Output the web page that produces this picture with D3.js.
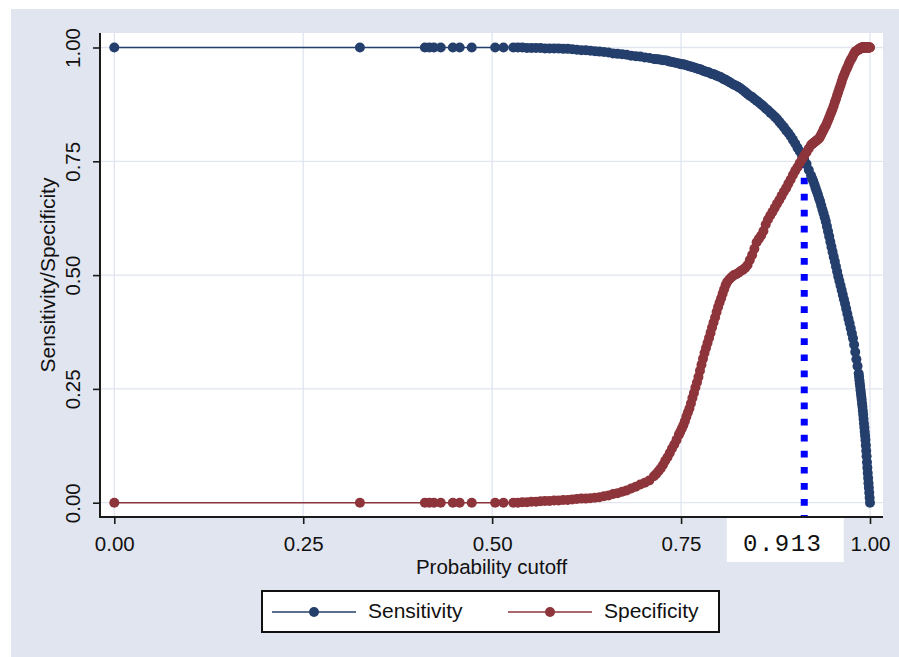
<!DOCTYPE html>
<html><head><meta charset="utf-8">
<script src="https://cdn.jsdelivr.net/npm/d3@7"></script>
<style>body{margin:0;background:#fff}svg{display:block}</style>
</head><body><svg id="c" width="899" height="657"></svg>
<script>
// ---- data ----
const cutoffs = [
  0, 0.325, 0.411, 0.417, 0.423, 0.432, 0.448, 0.457, 0.473, 0.504, 0.515,
  0.528, 0.534, 0.540, 0.546, 0.552, 0.558, 0.564, 0.570, 0.576, 0.582, 0.588, 0.594, 0.600, 0.606, 0.612, 0.618,
  0.624, 0.630, 0.636, 0.642, 0.648, 0.654, 0.660, 0.666, 0.672, 0.678, 0.684, 0.690, 0.696, 0.702, 0.708, 0.714,
  0.717, 0.720, 0.723, 0.726, 0.729, 0.732, 0.735, 0.738, 0.741, 0.744, 0.747,
  0.749, 0.751, 0.753, 0.755, 0.757, 0.759, 0.761, 0.763, 0.765, 0.767, 0.769, 0.771, 0.773, 0.775, 0.777, 0.779,
  0.781, 0.783, 0.785, 0.787, 0.789, 0.791, 0.793, 0.795, 0.797, 0.799, 0.801, 0.803, 0.805, 0.807, 0.809, 0.811,
  0.814, 0.817, 0.820, 0.823, 0.826, 0.829, 0.832, 0.835, 0.838, 0.841, 0.844, 0.847, 0.850, 0.853, 0.856, 0.859,
  0.862, 0.865, 0.868, 0.871, 0.874, 0.877, 0.880, 0.883, 0.886, 0.889, 0.892, 0.895, 0.898, 0.901, 0.904, 0.907,
  0.910, 0.913, 0.916, 0.919, 0.922,
  0.9235, 0.925, 0.9265, 0.928, 0.9295, 0.931, 0.9325, 0.934, 0.9355, 0.937, 0.9385, 0.940, 0.9415, 0.943, 0.9445,
  0.946, 0.9475, 0.949, 0.9505, 0.952, 0.9535, 0.955, 0.9565, 0.958, 0.9595, 0.961, 0.9625, 0.964, 0.9655, 0.967,
  0.9685, 0.970, 0.9715, 0.973, 0.9745, 0.976, 0.9775, 0.979, 0.9805, 0.982, 0.9835,
  0.9850, 0.9855, 0.9860, 0.9865, 0.9870, 0.9875, 0.9880, 0.9885, 0.9890, 0.9895, 0.9900, 0.9905, 0.9910, 0.9915,
  0.9920, 0.9925, 0.9930, 0.9935, 0.9940, 0.9945, 0.9950, 0.9955, 0.9960, 0.9965, 0.9970, 0.9975, 0.9980, 0.9985,
  0.9990, 0.9995, 1.0000
];
const sensitivity = [
  1, 1, 1, 1, 1, 1, 1, 1, 1, 1, 1,
  1.000, 1.000, 1.000, 0.999, 0.999, 0.999, 0.999, 0.998, 0.998, 0.998, 0.998, 0.997, 0.997, 0.996, 0.995, 0.994,
  0.994, 0.993, 0.992, 0.991, 0.990, 0.989, 0.987, 0.986, 0.985, 0.984, 0.982, 0.981, 0.980, 0.978, 0.977, 0.975,
  0.974, 0.974, 0.973, 0.972, 0.972, 0.971, 0.969, 0.968, 0.967, 0.966, 0.965,
  0.964, 0.963, 0.963, 0.962, 0.961, 0.960, 0.959, 0.958, 0.957, 0.956, 0.955, 0.954, 0.953, 0.952, 0.951, 0.949,
  0.948, 0.947, 0.946, 0.945, 0.943, 0.942, 0.941, 0.940, 0.938, 0.937, 0.936, 0.934, 0.932, 0.930, 0.929, 0.927,
  0.924, 0.921, 0.918, 0.916, 0.913, 0.910, 0.906, 0.902, 0.898, 0.894, 0.891, 0.887, 0.883, 0.879, 0.875, 0.871,
  0.866, 0.862, 0.857, 0.853, 0.848, 0.843, 0.837, 0.831, 0.825, 0.818, 0.812, 0.805, 0.797, 0.789, 0.780, 0.772,
  0.763, 0.753, 0.744, 0.731, 0.719,
  0.712, 0.706, 0.699, 0.691, 0.684, 0.677, 0.669, 0.662, 0.653, 0.644, 0.636, 0.627, 0.618, 0.607, 0.596,
  0.585, 0.573, 0.562, 0.551, 0.540, 0.530, 0.519, 0.508, 0.497, 0.487, 0.477, 0.467, 0.457, 0.447, 0.437,
  0.426, 0.415, 0.404, 0.394, 0.383, 0.372, 0.361, 0.347, 0.331, 0.315, 0.300,
  0.284, 0.277, 0.269, 0.262, 0.255, 0.247, 0.240, 0.233, 0.226, 0.218, 0.211, 0.202, 0.193, 0.184,
  0.174, 0.165, 0.156, 0.147, 0.138, 0.126, 0.114, 0.102, 0.089, 0.077, 0.065, 0.054, 0.043, 0.033,
  0.022, 0.011, 0.000
];
const specificity = [
  0, 0, 0, 0, 0, 0, 0, 0, 0, 0, 0,
  0.000, 0.000, 0.001, 0.001, 0.002, 0.002, 0.003, 0.004, 0.004, 0.005, 0.005, 0.006, 0.006, 0.007, 0.008, 0.009,
  0.009, 0.010, 0.011, 0.012, 0.014, 0.016, 0.019, 0.021, 0.024, 0.027, 0.031, 0.035, 0.040, 0.044, 0.049, 0.058,
  0.063, 0.069, 0.075, 0.083, 0.092, 0.100, 0.109, 0.119, 0.128, 0.138, 0.149,
  0.156, 0.163, 0.170, 0.179, 0.189, 0.198, 0.207, 0.218, 0.230, 0.241, 0.253, 0.264, 0.276, 0.290, 0.303, 0.316,
  0.329, 0.340, 0.351, 0.362, 0.373, 0.385, 0.396, 0.407, 0.419, 0.430, 0.440, 0.449, 0.459, 0.469, 0.478, 0.485,
  0.491, 0.496, 0.500, 0.502, 0.505, 0.509, 0.512, 0.516, 0.522, 0.533, 0.544, 0.558, 0.572, 0.580, 0.587, 0.597,
  0.611, 0.622, 0.631, 0.639, 0.648, 0.657, 0.665, 0.674, 0.683, 0.691, 0.701, 0.710, 0.720, 0.729, 0.737, 0.746,
  0.754, 0.762, 0.770, 0.778, 0.786,
  0.788, 0.790, 0.792, 0.794, 0.796, 0.798, 0.800, 0.804, 0.809, 0.814, 0.819, 0.824, 0.828, 0.834, 0.840,
  0.846, 0.853, 0.859, 0.865, 0.872, 0.880, 0.887, 0.895, 0.902, 0.910, 0.917, 0.925, 0.933, 0.939, 0.945,
  0.951, 0.956, 0.962, 0.968, 0.973, 0.977, 0.982, 0.987, 0.991, 0.992, 0.994,
  0.995, 0.996, 0.997, 0.997, 0.998, 0.998, 0.999, 0.999, 1.000, 1.000, 1.000, 1.000, 1.000, 1.000,
  1.000, 1.000, 1.000, 1.000, 1.000, 1.000, 1.000, 1.000, 1.000, 1.000, 1.000, 1.000, 1.000, 1.000,
  1.000, 1.000, 1.000
];
const xTicks = [0, 0.25, 0.5, 0.75, 1];
const yTicks = [0, 0.25, 0.5, 0.75, 1];
const seriesNames = ["Sensitivity", "Specificity"];
const optimalCutoff = 0.913;
const optimalLevel = 0.75;
const xTitle = "Probability cutoff";
const yTitle = "Sensitivity/Specificity";

// ---- drawing ----
const colors = ["#253f6d", "#8e343b"];
const bg = "#e1e5ef", gridC = "#e0e5ef";
const plot = {l: 100, r: 883, t: 33, b: 517};
const FONT = "'Liberation Sans', Arial, Helvetica, sans-serif";

const svg = d3.select("#c");
const x = d3.scaleLinear().domain([0, 1]).range([114.3, 870]);
const y = d3.scaleLinear().domain([0, 1]).range([502.7, 47.5]);

svg.append("rect").attr("x", 11).attr("y", 9).attr("width", 888).attr("height", 648).attr("fill", bg);
svg.append("rect").attr("x", plot.l).attr("y", plot.t).attr("width", plot.r - plot.l).attr("height", plot.b - plot.t).attr("fill", "#fff");

// grid
svg.append("g").selectAll("line").data(xTicks).join("line")
  .attr("x1", d => x(d)).attr("x2", d => x(d)).attr("y1", plot.t).attr("y2", plot.b)
  .attr("stroke", gridC).attr("stroke-width", 1.3);
svg.append("g").selectAll("line").data(yTicks).join("line")
  .attr("y1", d => y(d)).attr("y2", d => y(d)).attr("x1", plot.l).attr("x2", plot.r)
  .attr("stroke", gridC).attr("stroke-width", 1.3);

// optimal cutoff dotted line
svg.append("line")
  .attr("x1", x(optimalCutoff)).attr("x2", x(optimalCutoff))
  .attr("y1", y(0) + 19.1).attr("y2", y(optimalLevel))
  .attr("stroke", "#0000ff").attr("stroke-width", 7).attr("stroke-dasharray", "6.7 9.37");

const rows = cutoffs.map((c, i) => ({c, v: [sensitivity[i], specificity[i]]}));
[0, 1].forEach(k => {
  const g = svg.append("g");
  g.append("path").datum(rows)
    .attr("d", d3.line().x(d => x(d.c)).y(d => y(d.v[k])))
    .attr("fill", "none").attr("stroke", colors[k]).attr("stroke-width", 1.6);
  g.selectAll("circle").data(rows).join("circle")
    .attr("cx", d => x(d.c)).attr("cy", d => y(d.v[k])).attr("r", 5)
    .attr("fill", colors[k]);
});

// axes
const yAxis = d3.axisLeft(y).tickValues(yTicks).tickFormat(d3.format(".2f")).tickSize(7).tickSizeOuter(0);
const gy = svg.append("g").attr("transform", `translate(${plot.l},0)`).call(yAxis);
gy.select(".domain").remove();
gy.selectAll(".tick line").attr("stroke", "#1a1a1a").attr("stroke-width", 1.6);
gy.selectAll(".tick text")
  .attr("x", null).attr("dy", null)
  .attr("transform", "translate(-20,0) rotate(-90)")
  .attr("text-anchor", "middle")
  .style("font-family", FONT).style("font-size", "20.5px").attr("fill", "#111");

const xAxis = d3.axisBottom(x).tickValues(xTicks).tickFormat(d3.format(".2f")).tickSize(7).tickSizeOuter(0);
const gx = svg.append("g").attr("transform", `translate(0,${plot.b})`).call(xAxis);
gx.select(".domain").remove();
gx.selectAll(".tick line").attr("stroke", "#1a1a1a").attr("stroke-width", 1.6);

// optimal cutoff label box
const lx = x(optimalCutoff);
svg.append("rect").attr("x", lx - 77.5).attr("y", plot.b + 1).attr("width", 117).attr("height", 44).attr("fill", "#fff");
svg.append("text").attr("x", lx - 21.5).attr("y", 551).attr("text-anchor", "middle")
  .style("font-family", "'Liberation Mono', 'Courier New', monospace").style("font-size", "24px")
  .style("letter-spacing", "1.5px").attr("fill", "#111")
  .text(d3.format(".3f")(optimalCutoff));

gx.selectAll(".tick text")
  .attr("y", 33.7).attr("dy", null)
  .style("font-family", FONT).style("font-size", "20.5px").attr("fill", "#111");

svg.append("line").attr("x1", plot.l).attr("x2", plot.l).attr("y1", plot.t).attr("y2", plot.b + 1)
  .attr("stroke", "#1a1a1a").attr("stroke-width", 2);
svg.append("line").attr("x1", plot.l - 1).attr("x2", plot.r).attr("y1", plot.b).attr("y2", plot.b)
  .attr("stroke", "#1a1a1a").attr("stroke-width", 2);

// titles
svg.append("text").attr("x", (plot.l + plot.r) / 2).attr("y", 573.5).attr("text-anchor", "middle")
  .style("font-family", FONT).style("font-size", "20.5px").attr("fill", "#111").text(xTitle);
svg.append("text").attr("transform", `translate(55,${(plot.t + plot.b) / 2}) rotate(-90)`).attr("text-anchor", "middle")
  .style("font-family", FONT).style("font-size", "21px").attr("fill", "#111").text(yTitle);

// legend
const leg = svg.append("g");
leg.append("rect").attr("x", 262).attr("y", 591).attr("width", 457).attr("height", 41)
  .attr("fill", "#fff").attr("stroke", "#111").attr("stroke-width", 2);
const legX = [272, 508];
seriesNames.forEach((name, k) => {
  const x0 = legX[k];
  leg.append("line").attr("x1", x0).attr("x2", x0 + 84).attr("y1", 612).attr("y2", 612)
    .attr("stroke", colors[k]).attr("stroke-width", 1.6);
  leg.append("circle").attr("cx", x0 + 42).attr("cy", 612).attr("r", 5).attr("fill", colors[k]);
  leg.append("text").attr("x", x0 + 96).attr("y", 617.5)
    .style("font-family", FONT).style("font-size", "21px").attr("fill", "#111").text(name);
});
</script>
</body></html>
